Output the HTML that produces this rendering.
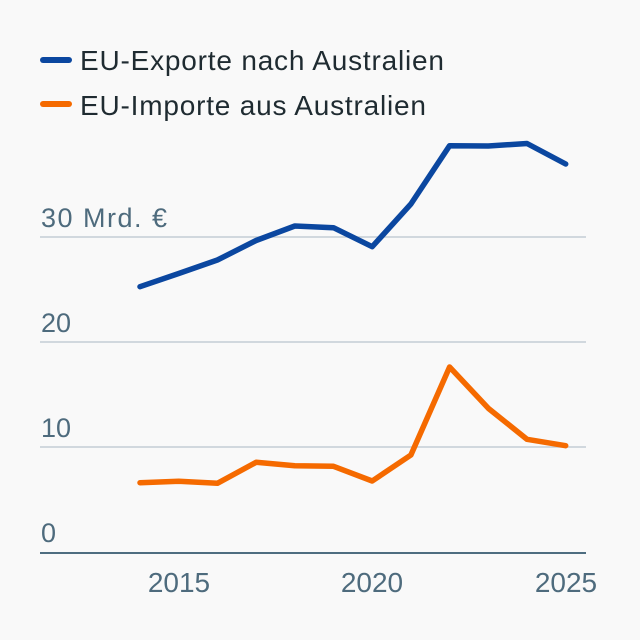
<!DOCTYPE html>
<html>
<head>
<meta charset="utf-8">
<style>
  html, body { margin: 0; padding: 0; background: #f9f9f9; }
  svg { display: block; font-family: "Liberation Sans", "DejaVu Sans", sans-serif; }
</style>
</head>
<body>
<svg width="640" height="640" viewBox="0 0 640 640" xmlns="http://www.w3.org/2000/svg">
  <rect width="640" height="640" fill="#f9f9f9"/>

  <!-- Legend -->
  <line x1="43" y1="60" x2="69" y2="60" stroke="#0b47a0" stroke-width="6" stroke-linecap="round"/>
  <text x="80" y="70" font-size="28" fill="#1f2b31" textLength="364" lengthAdjust="spacing">EU-Exporte nach Australien</text>
  <line x1="43" y1="104" x2="69" y2="104" stroke="#f56a00" stroke-width="6" stroke-linecap="round"/>
  <text x="80" y="115" font-size="28" fill="#1f2b31" textLength="346" lengthAdjust="spacing">EU-Importe aus Australien</text>

  <!-- Gridlines -->
  <line x1="40" y1="237" x2="586" y2="237" stroke="#c4cdd5" stroke-width="1.5"/>
  <line x1="40" y1="342" x2="586" y2="342" stroke="#c4cdd5" stroke-width="1.5"/>
  <line x1="40" y1="447" x2="586" y2="447" stroke="#c4cdd5" stroke-width="1.5"/>
  <line x1="40" y1="553" x2="586" y2="553" stroke="#4e6d80" stroke-width="2"/>

  <!-- Y labels -->
  <g font-size="27" fill="#4e6b7d">
    <text x="41" y="227" textLength="126" lengthAdjust="spacing">30 Mrd. €</text>
    <text x="41" y="332">20</text>
    <text x="41" y="437">10</text>
    <text x="41" y="542">0</text>
  </g>

  <!-- X labels -->
  <g font-size="28" fill="#4e6b7d" text-anchor="middle">
    <text x="179" y="592">2015</text>
    <text x="372" y="592">2020</text>
    <text x="566" y="592">2025</text>
  </g>

  <!-- Series -->
  <polyline fill="none" stroke="#0b47a0" stroke-width="5.5" stroke-linecap="round" stroke-linejoin="round"
    points="140,286.7 178.7,273.5 217.4,260 256.1,240.5 294.8,226 333.5,227.7 372.2,246.7 410.9,204 449.6,145.7 488.3,146 527,143.5 565.7,164"/>
  <polyline fill="none" stroke="#f56a00" stroke-width="5.5" stroke-linecap="round" stroke-linejoin="round"
    points="140,482.7 178.7,481.3 217.4,483.3 256.1,462.3 294.8,465.7 333.5,466.3 372.2,481 410.9,455 449.6,367 488.3,408.3 527,439.3 565.7,445.7"/>
</svg>
</body>
</html>
